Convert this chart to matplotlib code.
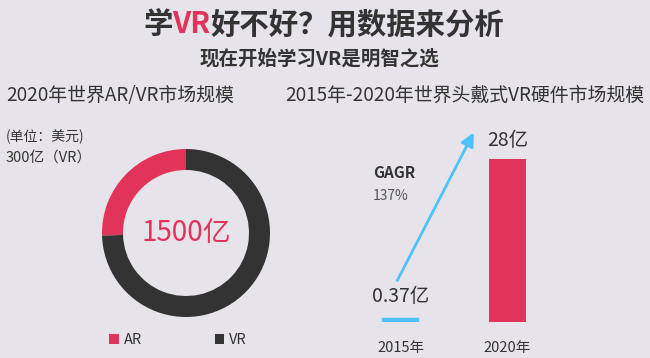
import matplotlib
matplotlib.use("Agg")
import matplotlib.pyplot as plt
from matplotlib.patches import Patch

plt.rcParams['font.family'] = ['Noto Sans CJK SC', 'DejaVu Sans']

# ---- data ----
title_parts = ["学", "VR", "好不好？用数据来分析"]
subtitle = "现在开始学习VR是明智之选"
left_heading = "2020年世界AR/VR市场规模"
right_heading = "2015年-2020年世界头戴式VR硬件市场规模"

donut_labels = ["AR", "VR"]
donut_shares = [25.5, 74.5]          # share of the ring
donut_total_label = "1500亿"
unit_note = "(单位：美元)"
vr_note = "300亿（VR）"

bar_years = ["2015年", "2020年"]
bar_values = [0.37, 28]
bar_value_labels = ["0.37亿", "28亿"]
growth_name = "GAGR"
growth_rate = "137%"

# ---- style ----
BG = "#e6e4ea"
RED = "#e2345b"
DARK = "#333333"
BLUE = "#4fc1fb"
GREY = "#555555"

W, H = 650, 358
fig = plt.figure(figsize=(6.5, 3.58), dpi=100, facecolor=BG)

def fx(px):
    return px / W

def fy(py):
    return 1 - py / H

# ---- title with coloured "VR" ----
TS = 21.2
t0 = fig.text(fx(143), fy(24), title_parts[0], fontsize=TS, fontweight='bold',
              color=DARK, ha='left', va='center')
t1 = fig.text(0, 0, title_parts[1], fontsize=TS, fontweight='bold', color=RED)
t2 = fig.text(0, 0, title_parts[2], fontsize=TS, fontweight='bold', color=DARK)
fig.canvas.draw()
r = fig.canvas.get_renderer()
bb0 = t0.get_window_extent(r)
t1.set_position((bb0.x1 / W, fy(24)))
t1.set_va('center')
fig.canvas.draw()
bb1 = t1.get_window_extent(r)
t2.set_position((bb1.x1 / W, fy(24)))
t2.set_va('center')

fig.text(fx(320), fy(59), subtitle, fontsize=14, fontweight='bold', color=DARK,
         ha='center', va='center')

fig.text(fx(6), fy(95), left_heading, fontsize=13.6, color=DARK, ha='left', va='center')
fig.text(fx(285), fy(95), right_heading, fontsize=13.6, color=DARK, ha='left', va='center')

fig.text(fx(6), fy(137), unit_note, fontsize=10, color=DARK, ha='left', va='center')
fig.text(fx(6), fy(158), vr_note, fontsize=10.5, color=DARK, ha='left', va='center')

# ---- donut ----
cx, cy, rad = 186, 233, 84
ax1 = fig.add_axes([fx(cx - rad), fy(cy + rad), 2 * rad / W, 2 * rad / H])
ax1.set_facecolor(BG)
wedges, _ = ax1.pie(donut_shares, colors=[RED, DARK], startangle=90, counterclock=True,
                    radius=1, wedgeprops=dict(width=0.25, edgecolor='none'))
ax1.set_xlim(-1, 1)
ax1.set_ylim(-1, 1)
ax1.set_aspect('auto')
ax1.axis('off')
ax1.text(0, 0, donut_total_label, fontsize=20, color=RED, ha='center', va='center')

handles = [Patch(facecolor=c, edgecolor='none', label=l) for c, l in zip([RED, DARK], donut_labels)]
fig.legend(handles=handles, loc='center left', bbox_to_anchor=(fx(96), fy(340)),
           ncol=2, frameon=False, fontsize=10.5, handlelength=0.65, handleheight=0.65,
           handletextpad=0.35, columnspacing=5.0, labelcolor=DARK)

# ---- bars ----
base_px = 322
top_px = 159
unit_px = (base_px - top_px) / bar_values[1]
ymax = 30
ax2 = fig.add_axes([fx(347), fy(base_px), 214 / W, unit_px * ymax / H])
ax2.set_facecolor('none')
x = list(range(len(bar_values)))
bars = ax2.bar(x, bar_values, width=[0.30, 0.346], color=[BLUE, RED],
               edgecolor=[BLUE, RED], linewidth=[3.2, 0])
ax2.set_xlim(-0.5, 1.5)
ax2.set_ylim(0, ymax)
ax2.axis('off')

for xi, v, lab in zip(x, bar_values, bar_value_labels):
    off = 9 if xi == 0 else 6
    ax2.annotate(lab, xy=(xi, v), xytext=(0, off), textcoords='offset points',
                 ha='center', va='bottom', fontsize=14, color=DARK)
for xi, yr in zip(x, bar_years):
    ax2.annotate(yr, xy=(xi, 0), xytext=(0, -19), textcoords='offset points',
                 ha='center', va='center', fontsize=10.5, color=DARK)

fig.text(fx(373), fy(173), growth_name, fontsize=11, fontweight='bold', color=DARK,
         ha='left', va='center')
fig.text(fx(373), fy(196), growth_rate, fontsize=10, color=GREY, ha='left', va='center')

fig.add_artist(matplotlib.patches.FancyArrowPatch(
    (fx(396), fy(283)), (fx(475), fy(130)), transform=fig.transFigure,
    arrowstyle='-|>,head_length=8,head_width=4', mutation_scale=1,
    color=BLUE, linewidth=2))

fig.savefig("out.png", dpi=100, facecolor=BG)
